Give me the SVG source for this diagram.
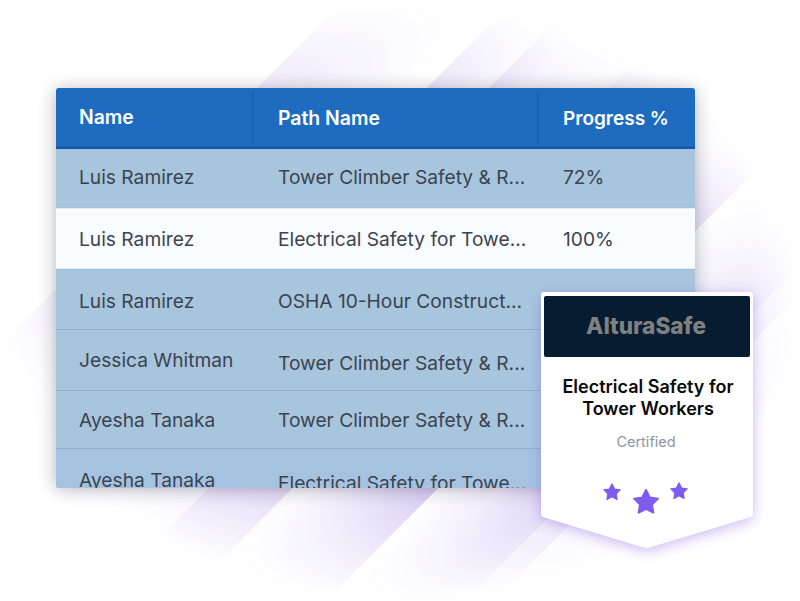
<svg xmlns="http://www.w3.org/2000/svg" width="800" height="601" viewBox="0 0 800 601">
<style>
text{font-family:Inter,"Noto Sans","Liberation Sans",sans-serif}
.h{font-size:19.400px;font-weight:600;fill:#fff}
.c{font-size:19.200px;fill:#3c4350}
.d{stroke:#8fb0d0;stroke-width:1}
.t{font-size:18px;font-weight:600;fill:#0a0a0a;text-anchor:middle}
.s{fill:#7f5cf0;stroke:#7f5cf0;stroke-width:1.600;stroke-linejoin:round}
</style>
<defs>
<linearGradient id="fr"><stop offset="0" stop-color="#7b55dc" stop-opacity=".3"/><stop offset="1" stop-color="#7b55dc" stop-opacity="0"/></linearGradient>
<linearGradient id="fl"><stop offset="0" stop-color="#7b55dc" stop-opacity="0"/><stop offset="1" stop-color="#7b55dc" stop-opacity=".42"/></linearGradient>
<radialGradient id="fade" r=".5"><stop offset="0" stop-color="#fff"/><stop offset=".5" stop-color="#fff"/><stop offset=".78" stop-color="#666"/><stop offset="1" stop-color="#000"/></radialGradient>
<mask id="m" maskUnits="userSpaceOnUse" x="0" y="0" width="800" height="601"><rect width="800" height="601" fill="url(#fade)"/></mask>
<filter id="sh" x="-15%" y="-15%" width="130%" height="130%"><feGaussianBlur stdDeviation="9"/></filter>
<filter id="bs" x="-20%" y="-20%" width="140%" height="140%"><feGaussianBlur stdDeviation="7"/></filter>
<clipPath id="tc"><rect x="56" y="88" width="639" height="400" rx="3"/></clipPath>
<polygon id="star" points="0,-10 3,-4 9.51,-3.09 4.8,1.6 5.88,8.09 0,5 -5.88,8.09 -4.8,1.6 -9.51,-3.09 -3,-4"/>
</defs>
<rect width="800" height="601" fill="#fff"/>
<g id="bands" mask="url(#m)">
<g transform="rotate(45)">
<rect x="244" y="-700" width="110" height="1400" fill="url(#fr)"/>
<rect x="364" y="-700" width="70" height="1400" fill="url(#fr)"/>
<rect x="408" y="-700" width="80" height="1400" fill="url(#fr)"/>
<rect x="493" y="-700" width="70" height="1400" fill="url(#fr)"/>
<rect x="432" y="-700" width="120" height="1400" fill="url(#fl)" opacity=".8"/>
<rect x="548" y="-700" width="107" height="1400" fill="url(#fl)"/>
<rect x="655" y="-700" width="99" height="1400" fill="url(#fl)"/>
<rect x="700" y="-700" width="74" height="1400" fill="url(#fl)"/>
<rect x="754" y="-700" width="79" height="1400" fill="url(#fl)"/>
</g>
</g>
<g id="table">
<rect x="56" y="90" width="639" height="399" rx="3" fill="#1a1a2a" opacity=".33" filter="url(#sh)"/>
<g clip-path="url(#tc)">
<rect x="56" y="88" width="639" height="400" fill="#a8c5de"/>
<rect x="56" y="88" width="639" height="60" fill="#1d6cc0"/>
<rect x="56" y="146.500" width="639" height="2.500" fill="#1557a8"/>
<rect x="56" y="208" width="639" height="61" fill="#f9fcff"/>
<rect x="56" y="449" width="639" height="39" fill="#a5c3e0"/>
<path d="M253 92V144M538 92V144" stroke="#195ea9" stroke-width="1.200"/>
<path class="d" d="M56 208H695M56 269H695" stroke-opacity=".4"/>
<path class="d" d="M56 329.500H695M56 390.500H695M56 448.500H695"/>
<text class="h" x="79" y="124">Name</text>
<text class="h" x="278" y="125">Path Name</text>
<text class="h" x="563" y="125" style="font-size:19px">Progress %</text>
<text class="c" x="79" y="184">Luis Ramirez</text>
<text class="c" x="278" y="184">Tower Climber Safety &amp; R...</text>
<text class="c" x="563" y="184">72%</text>
<text class="c" x="79" y="246">Luis Ramirez</text>
<text class="c" x="278" y="246">Electrical Safety for Towe...</text>
<text class="c" x="563" y="246">100%</text>
<text class="c" x="79" y="308">Luis Ramirez</text>
<text class="c" x="278" y="308">OSHA 10-Hour Construct...</text>
<text class="c" x="79" y="367">Jessica Whitman</text>
<text class="c" x="278" y="370">Tower Climber Safety &amp; R...</text>
<text class="c" x="79" y="427">Ayesha Tanaka</text>
<text class="c" x="278" y="427">Tower Climber Safety &amp; R...</text>
<text class="c" x="79" y="487">Ayesha Tanaka</text>
<text class="c" x="278" y="490">Electrical Safety for Towe...</text>
</g>
</g>
<g id="badge">
<path d="M541 295a3 3 0 0 1 3-3H750a3 3 0 0 1 3 3V514a3 3 0 0 1-2 3L648 548a5 5 0 0 1-3 0L543 517a3 3 0 0 1-2-3Z" fill="#7b55dc" opacity=".4" filter="url(#bs)" transform="translate(0 3)"/>
<path d="M541 295a3 3 0 0 1 3-3H750a3 3 0 0 1 3 3V514a3 3 0 0 1-2 3L648 548a5 5 0 0 1-3 0L543 517a3 3 0 0 1-2-3Z" fill="#fff"/>
<rect x="544" y="296" width="206" height="61" rx="2" fill="#051c31"/>
<text x="646" y="334" font-size="23.500" font-weight="800" fill="#808080" text-anchor="middle" textLength="120" lengthAdjust="spacingAndGlyphs">AlturaSafe</text>
<text class="t" x="648" y="393">Electrical Safety for</text>
<text class="t" x="648" y="415">Tower Workers</text>
<text x="646" y="447" font-size="14.500" fill="#8a96a3" text-anchor="middle">Certified</text>
<use href="#star" class="s" transform="translate(612 492.500) scale(.85)"/>
<use href="#star" class="s" transform="translate(679 491.500) scale(.85)"/>
<use href="#star" class="s" transform="translate(646 502.500) scale(1.25)"/>
</g>
</svg>
